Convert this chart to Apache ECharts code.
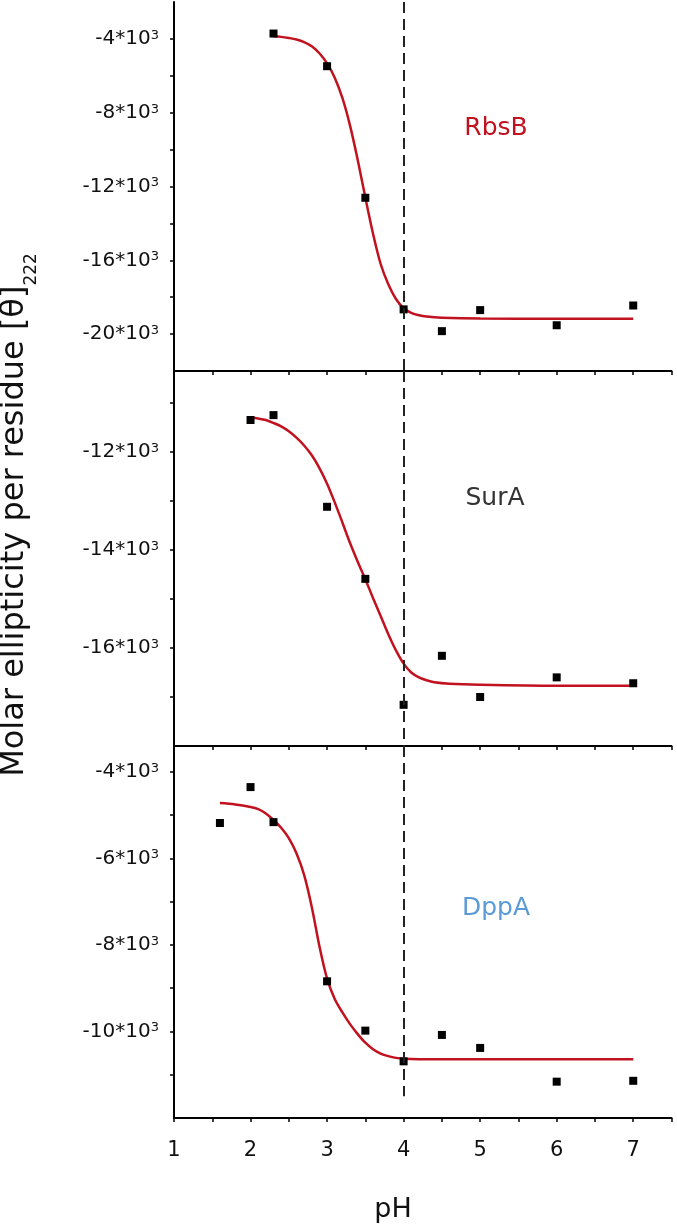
<!DOCTYPE html>
<html>
<head>
<meta charset="utf-8">
<script src="https://cdn.jsdelivr.net/npm/echarts@6/dist/echarts.min.js"></script>
<style>
html,body{margin:0;padding:0;background:#fff;}
#chart{width:677px;height:1226px;}
</style>
</head>
<body>
<div id="chart"></div>
<script>
// ---------- data ----------
const panelNames = ['RbsB', 'SurA', 'DppA'];

const rbsbPH   = [2.3, 3.0, 3.5, 4.0, 4.5, 5.0, 6.0, 7.0];
const rbsbVals = [-3710, -5480, -12610, -18660, -19840, -18700, -19520, -18450];
const rbsbFitPH   = [2.3, 2.4, 2.5, 2.6, 2.7, 2.8, 2.9, 3.0, 3.1, 3.2, 3.3, 3.4, 3.5, 3.6, 3.7, 3.8, 3.9, 4.0, 4.1, 4.2, 4.3, 4.5, 5.0, 6.0, 7.0];
const rbsbFitVals = [-3860, -3890, -3950, -4030, -4170, -4400, -4780, -5330, -6100, -7200, -8700, -10550, -12600, -14550, -16200, -17300, -18100, -18600, -18850, -18980, -19050, -19110, -19160, -19170, -19170];

const suraPH   = [2.0, 2.3, 3.0, 3.5, 4.0, 4.5, 5.0, 6.0, 7.0];
const suraVals = [-11350, -11250, -13120, -14590, -17160, -16160, -17000, -16600, -16720];
const suraFitPH   = [2.0, 2.1, 2.2, 2.3, 2.4, 2.5, 2.6, 2.7, 2.8, 2.9, 3.0, 3.1, 3.2, 3.3, 3.4, 3.5, 3.6, 3.7, 3.8, 3.9, 4.0, 4.1, 4.2, 4.3, 4.4, 4.6, 5.0, 6.0, 7.0];
const suraFitVals = [-11300, -11320, -11350, -11410, -11480, -11580, -11710, -11870, -12070, -12330, -12650, -13030, -13440, -13860, -14240, -14600, -14980, -15350, -15720, -16050, -16320, -16500, -16600, -16660, -16700, -16730, -16750, -16770, -16770];

const dppaPH   = [1.6, 2.0, 2.3, 3.0, 3.5, 4.0, 4.5, 5.0, 6.0, 7.0];
const dppaVals = [-5180, -4350, -5160, -8840, -9980, -10690, -10080, -10380, -11160, -11140];
const dppaFitPH   = [1.6, 1.8, 2.0, 2.1, 2.2, 2.3, 2.4, 2.5, 2.6, 2.7, 2.8, 2.9, 3.0, 3.1, 3.2, 3.3, 3.4, 3.5, 3.6, 3.7, 3.8, 3.9, 4.0, 4.2, 5.0, 6.0, 7.0];
const dppaFitVals = [-4720, -4750, -4810, -4860, -4960, -5110, -5290, -5530, -5880, -6380, -7120, -8030, -8780, -9250, -9560, -9830, -10060, -10260, -10410, -10510, -10570, -10610, -10630, -10640, -10640, -10640, -10640];

// axis ranges / tick steps
const xMin = 1, xMax = 7.5, xTickStep = 0.5;
const yMin = [-22000, -18000, -12000];
const yMax = [-2000, -10350, -3400];
const yTickStep  = [2000, 1000, 1000];
const yLabelStep = [4000, 2000, 2000];
const refPH = 4;                 // dashed reference line
const refLineEnd = [-22000, -18000, -11500];

// ---------- styling ----------
const FONT = 'DejaVu Sans';
const RED = '#c1121f';
const titleColors = ['#c1121f', '#333333', '#5b9bd5'];

const grids = [
  {left: 174, top: 2,   width: 497.5, height: 369},
  {left: 174, top: 371, width: 497.5, height: 375},
  {left: 174, top: 746, width: 497.5, height: 372}
];

const pts = [[rbsbPH, rbsbVals], [suraPH, suraVals], [dppaPH, dppaVals]];
const fits = [[rbsbFitPH, rbsbFitVals], [suraFitPH, suraFitVals], [dppaFitPH, dppaFitVals]];
const zip = (a, b) => a.map((v, i) => [v, b[i]]);

const xAxes = grids.map((g, i) => ({
  type: 'value', gridIndex: i, min: xMin, max: xMax, interval: xTickStep,
  axisLine: {show: true, onZero: false, lineStyle: {color: '#000', width: 2}},
  axisTick: {show: true, length: 4, lineStyle: {color: '#000', width: 1.5}},
  splitLine: {show: false},
  axisLabel: {
    show: i === 2, margin: 22, fontFamily: FONT, fontSize: 21, color: '#111',
    formatter: v => (Math.abs(v - Math.round(v)) < 1e-9 && v <= 7) ? String(Math.round(v)) : ''
  }
}));

const yAxes = grids.map((g, i) => ({
  type: 'value', gridIndex: i, min: yMin[i], max: yMax[i], interval: yTickStep[i],
  axisLine: {show: true, onZero: false, lineStyle: {color: '#000', width: 2}},
  axisTick: {show: true, length: 4, lineStyle: {color: '#000', width: 1.5}},
  splitLine: {show: false},
  axisLabel: {
    show: true, margin: 15, fontFamily: FONT, fontSize: 20, color: '#111',
    showMinLabel: false, showMaxLabel: false,
    formatter: v => (Math.round(v) % yLabelStep[i] === 0 && Math.round(v) !== yMin[i])
      ? (Math.round(v) / 1000) + '*10{sup|3}' : '',
    rich: {sup: {fontFamily: FONT, fontSize: 13, lineHeight: 13, verticalAlign: 'top', color: '#111'}}
  }
}));

const series = [];
grids.forEach((g, i) => {
  series.push({
    type: 'line', xAxisIndex: i, yAxisIndex: i,
    data: zip(fits[i][0], fits[i][1]),
    smooth: 0.3, showSymbol: false, symbol: 'none',
    lineStyle: {color: RED, width: 2.5}, z: 2, silent: true,
    markLine: {
      silent: true, symbol: 'none', label: {show: false}, animation: false,
      lineStyle: {type: [11, 6], color: '#222', width: 2},
      data: [[{coord: [refPH, yMax[i]]}, {coord: [refPH, refLineEnd[i]]}]]
    }
  });
  series.push({
    type: 'scatter', xAxisIndex: i, yAxisIndex: i,
    data: zip(pts[i][0], pts[i][1]),
    symbol: 'rect', symbolSize: 8, itemStyle: {color: '#000', opacity: 1}, z: 3, silent: true
  });
});

const titlePos = [[496, 128], [495, 498], [496, 908]];
const graphic = panelNames.map((n, i) => ({
  type: 'text', x: titlePos[i][0], y: titlePos[i][1], silent: true,
  style: {text: n, fontFamily: FONT, fontSize: 25, fill: titleColors[i],
          textAlign: 'center', textVerticalAlign: 'middle'}
}));
graphic.push({
  type: 'text', x: 393, y: 1210, silent: true,
  style: {text: 'pH', fontFamily: FONT, fontSize: 27, fill: '#111',
          textAlign: 'center', textVerticalAlign: 'middle'}
});
graphic.push({
  type: 'text', x: 15, y: 515, rotation: Math.PI / 2, silent: true,
  style: {
    text: 'Molar ellipticity per residue [θ]{sub|222}',
    fontFamily: FONT, fontSize: 32, fill: '#111', lineHeight: 50,
    textAlign: 'center', textVerticalAlign: 'middle',
    rich: {sub: {fontFamily: FONT, fontSize: 17, lineHeight: 17, verticalAlign: 'bottom', fill: '#111'}}
  }
});

const chart = echarts.init(document.getElementById('chart'), null, {renderer: 'canvas'});
chart.setOption({
  animation: false,
  backgroundColor: '#fff',
  grid: grids,
  xAxis: xAxes,
  yAxis: yAxes,
  series: series,
  graphic: graphic
});
</script>
</body>
</html>
